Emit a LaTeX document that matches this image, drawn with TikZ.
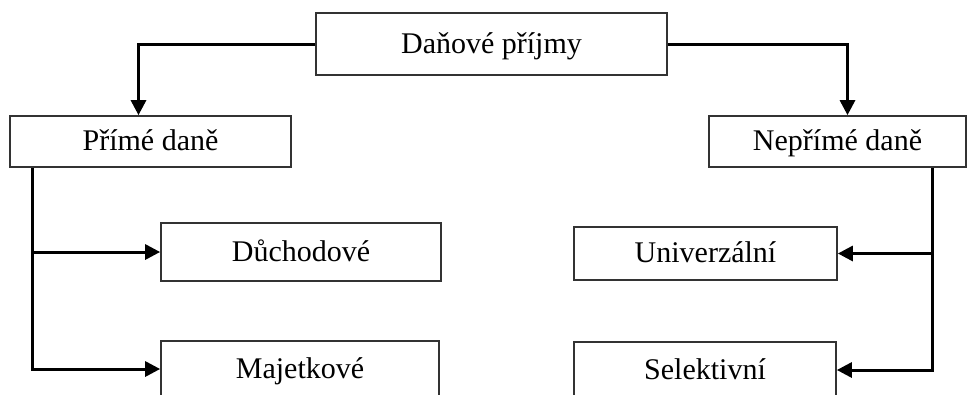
\documentclass[tikz,border=0pt]{standalone}
\usepackage{fontspec}
\setmainfont{Liberation Serif}
\usetikzlibrary{arrows.meta}
\begin{document}
\begin{tikzpicture}[x=1pt,y=-1pt,
  box/.style={draw=black!80,line width=1.7pt,rectangle,inner sep=0pt,
    text height=22pt,text depth=4pt,
    font=\fontsize{30}{33}\selectfont,text=black},
  link/.style={line width=3pt,-{Triangle[length=15pt,width=15pt]}}]
\useasboundingbox (0,0) rectangle (968,394);
\clip (0,0) rectangle (968,394);
% root and the two main branches
\node[box,minimum width=351pt,minimum height=62pt] (root) at (491.5,44) {Daňové příjmy};
\node[box,minimum width=281pt,minimum height=51pt] (prime) at (150.5,141.5) {Přímé daně};
\node[box,minimum width=257pt,minimum height=51pt] (neprime) at (837.5,141.5) {Nepřímé daně};
% sub-categories
\node[box,minimum width=280pt,minimum height=58pt] (duch) at (301,252) {Důchodové};
\node[box,minimum width=278pt,minimum height=56pt] (majet) at (300,369) {Majetkové};
\node[box,minimum width=263pt,minimum height=53pt] (univ) at (705.5,253.5) {Univerzální};
\node[box,minimum width=262pt,minimum height=56pt] (selek) at (705,370) {Selektivní};
% connectors
\draw[link] (root.west) -| ([xshift=-12pt]prime.north);
\draw[link] (root.east) -| ([xshift=10pt]neprime.north);
\coordinate (pl) at ([xshift=23pt]prime.south west);
\coordinate (pr) at ([xshift=-34pt]neprime.south east);
\draw[link] (pl) |- (duch.west);
\draw[link] (pl) |- (majet.west);
\draw[link] (pr) |- (univ.east);
\draw[link] (pr) |- (selek.east);
\end{tikzpicture}
\end{document}
